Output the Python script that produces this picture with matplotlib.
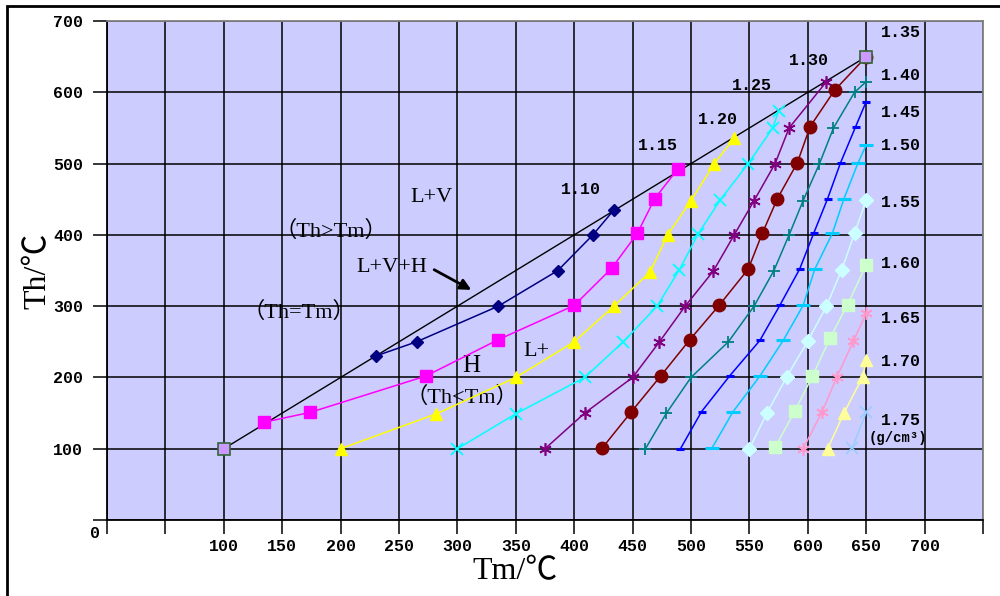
import matplotlib
matplotlib.use('Agg')
from matplotlib import pyplot as plt
from matplotlib.patches import Rectangle

# Th = Tm boundary line
diag_x = [100, 650]
diag_y = [100, 650]

# isochores, density in g/cm3 -> (Tm, Th) points
d110_x = [230, 265, 335, 386, 416, 434]
d110_y = [230, 250, 300, 350, 400, 435]
d115_x = [134, 174, 273, 335, 400, 432, 454, 469, 489]
d115_y = [137, 151, 202, 253, 301, 353, 402, 451, 493]
d120_x = [200, 282, 350, 400, 434, 465, 480, 500, 520, 537]
d120_y = [100, 149, 200, 250, 300, 348, 400, 448, 500, 536]
d125_x = [300, 350, 409, 442, 471, 490, 506, 525, 549, 570, 575]
d125_y = [100, 149, 200, 250, 300, 351, 401, 449, 500, 550, 574]
d130_x = [375, 409, 450, 473, 495, 519, 537, 554, 572, 584, 616]
d130_y = [100, 150, 200, 250, 300, 349, 400, 448, 500, 550, 615]
d135_x = [424, 449, 474, 499, 524, 549, 561, 574, 591, 602, 623, 650]
d135_y = [101, 152, 202, 253, 301, 352, 402, 451, 501, 552, 603, 650]
d140_x = [461, 479, 500, 532, 554, 571, 584, 596, 610, 622, 640, 650]
d140_y = [100, 150, 200, 250, 300, 350, 400, 448, 500, 550, 600, 615]
d145_x = [491, 509, 533, 559, 576, 593, 605, 617, 628, 641, 650]
d145_y = [100, 152, 202, 252, 301, 352, 402, 451, 501, 552, 587]
d150_x = [518, 536, 559, 579, 596, 606, 621, 631, 643, 650]
d150_y = [101, 152, 202, 252, 301, 352, 402, 451, 501, 526]
d155_x = [550, 565, 582, 600, 616, 629, 640, 650]
d155_y = [100, 150, 201, 251, 300, 351, 402, 449]
d160_x = [572, 589, 604, 619, 634, 650]
d160_y = [102, 153, 202, 255, 302, 358]
d165_x = [596, 612, 625, 639, 650]
d165_y = [100, 151, 201, 251, 290]
d170_x = [617, 631, 647, 650]
d170_y = [100, 150, 201, 224]
d175_x = [638, 650]
d175_y = [101, 151]

density_labels = ['1.10', '1.15', '1.20', '1.25', '1.30', '1.35', '1.40',
                  '1.45', '1.50', '1.55', '1.60', '1.65', '1.70', '1.75']
label_x = [406, 472, 523, 552, 601, 680, 680, 680, 680, 680, 680, 680, 680, 680]
label_y = [463, 525, 562, 609, 645, 684, 624, 572, 525, 445, 360, 282, 223, 139]

xtick_labels = ['', '', '100', '150', '200', '250', '300', '350', '400', '450',
                '500', '550', '600', '650', '700', '']
ytick_labels = ['', '100', '200', '300', '400', '500', '600', '700']

series = [
    (d110_x, d110_y, '#000080', 'D', 6.5, 1.0),
    (d115_x, d115_y, '#FF00FF', 's', 8, 1.0),
    (d120_x, d120_y, '#FFFF00', '^', 9, 1.0),
    (d125_x, d125_y, '#00FFFF', 'x', 8, 1.3),
    (d130_x, d130_y, '#800080', (6, 2, 0), 9, 1.2),
    (d135_x, d135_y, '#800000', 'o', 9, 1.0),
    (d140_x, d140_y, '#008080', '+', 9, 1.3),
    (d145_x, d145_y, '#0000FF', '_', 6, 2.2),
    (d150_x, d150_y, '#00CCFF', '_', 10, 2.2),
    (d155_x, d155_y, '#CCFFFF', 'D', 7, 1.0),
    (d160_x, d160_y, '#CCFFCC', 's', 8, 1.0),
    (d165_x, d165_y, '#FF99CC', (6, 2, 0), 9, 1.2),
    (d170_x, d170_y, '#FFFF99', '^', 9, 1.0),
    (d175_x, d175_y, '#99CCFF', 'x', 8, 1.2),
]

serif = ['Liberation Serif', 'Noto Sans CJK SC']
mono = 'Liberation Mono'

fig = plt.figure(figsize=(10, 5.96), dpi=100)
ax = fig.add_axes([0.107, 0.1275, 0.876, 0.8372])
ax.set_facecolor('#CCCCFF')
ax.set_xlim(0, 750)
ax.set_ylim(0, 700)

ax.set_xticks(range(0, 751, 50))
ax.set_xticklabels(xtick_labels)
ax.set_yticks(range(0, 701, 100))
ax.set_yticklabels(ytick_labels)
ax.grid(True, color='black', lw=1.1)
ax.set_axisbelow(True)
ax.tick_params(direction='out', length=10, width=1.1, color='black')
ax.tick_params(axis='x', pad=4)
ax.tick_params(axis='y', pad=7)
for lab in ax.get_xticklabels() + ax.get_yticklabels():
    lab.set_fontfamily(mono)
    lab.set_fontweight('bold')
    lab.set_fontsize(12)
ax.spines['left'].set_color('black')
ax.spines['bottom'].set_color('black')
ax.spines['top'].set_color('#808080')
ax.spines['right'].set_color('#808080')
for s in ax.spines.values():
    s.set_linewidth(1.3)

ax.plot(diag_x, diag_y, color='black', lw=1.0, zorder=3)
ax.plot(diag_x, diag_y, ls='none', marker='s', ms=8, mfc='#CC99FF', mec='#336633', mew=1.2, zorder=6)

for xs, ys, c, m, ms, mew in series:
    ax.plot(xs, ys, color=c, lw=1.1, marker=m, ms=ms, mfc=c, mec=c, mew=mew, zorder=4)

for t, x, y in zip(density_labels, label_x, label_y):
    ax.text(x, y, t, fontfamily=mono, fontweight='bold', fontsize=12, ha='center', va='center')
ax.text(677, 115, '(g/cm³)', fontfamily=mono, fontweight='bold', fontsize=10, ha='center', va='center')

# phase region annotations
ax.text(278, 452, 'L+V', fontfamily=serif, fontsize=16, ha='center', va='center')
ax.text(192, 405, '（Th>Tm）', fontfamily=serif, fontsize=16, ha='center', va='center')
ax.text(244, 354, 'L+V+H', fontfamily=serif, fontsize=16, ha='center', va='center')
ax.text(164, 292, '（Th=Tm）', fontfamily=serif, fontsize=16, ha='center', va='center')
ax.text(312, 216, 'H', fontfamily=serif, fontsize=18, ha='center', va='center')
ax.text(304, 172, '（Th<Tm）', fontfamily=serif, fontsize=16, ha='center', va='center')
ax.text(368, 236, 'L+', fontfamily=serif, fontsize=16, ha='center', va='center')
ax.annotate('', xy=(314, 321), xytext=(278, 353),
            arrowprops=dict(arrowstyle='-|>', lw=2, color='black', mutation_scale=16))

ax.set_xlabel('Tm/℃', fontfamily=serif, fontsize=23)
ax.xaxis.set_label_coords(0.466, -0.075)
ax.set_ylabel('Th/℃', fontfamily=serif, fontsize=23)
ax.yaxis.set_label_coords(-0.062, 0.5)
fig.text(0.095, 1 - 533 / 596, '0', fontfamily=mono, fontweight='bold', fontsize=12,
         ha='center', va='center')

# outer chart frame
fig.patches.append(Rectangle((0.007, -0.2), 1.2, 1.2 - 6 / 596,
                             transform=fig.transFigure, fill=False, ec='black', lw=2))

fig.savefig('out.png', dpi=100)
